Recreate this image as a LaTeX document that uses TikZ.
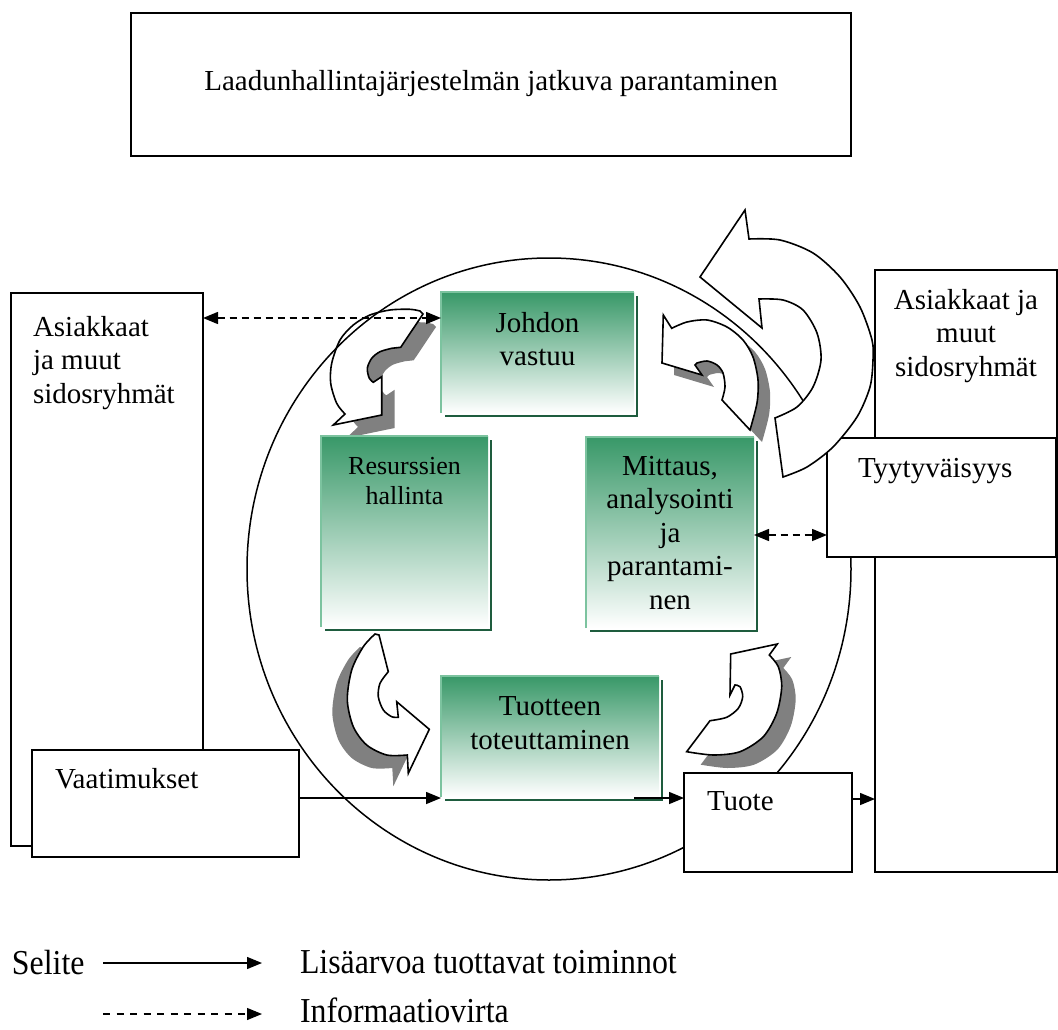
\documentclass[tikz,border=0pt]{standalone}
\usepackage{fontspec}
\setmainfont{Liberation Serif}
\newfontfamily\legendfam[FakeStretch=0.91]{Liberation Serif}
\usetikzlibrary{arrows.meta,calc}

\definecolor{gtop}{RGB}{56,152,104}
\definecolor{gedgelight}{RGB}{124,195,159}
\definecolor{gedgedark}{RGB}{30,92,62}
\definecolor{shadowgrey}{RGB}{128,128,128}

\newcommand\bodyfont{\fontsize{29}{33.5}\selectfont}
\newcommand\smallbodyfont{\fontsize{26}{30.5}\selectfont}
\newcommand\legendfont{\legendfam\fontsize{35}{40}\selectfont}

% outlines of the curved process arrows
\newcommand\pathTurnA{(423,314) -- (400.7,347.3) -- (391.7,348.3) -- plot[smooth] coordinates {(391.7,348.3) (380,351.7) (371.7,358.3) (367.3,368.3) (369.3,378.3) (373.3,382.3)} -- (381.7,376.7) -- (381.7,415) -- (333.3,425) -- (345,414) -- plot[smooth] coordinates {(345,414) (336.7,403.3) (330.7,383.3) (331.7,363.3) (340,340) (353.3,325) (370,315) (390,310) (410,309.3) (420,311)} -- cycle}
\newcommand\pathTurnB{(663.3,315) -- (671.7,328.3) -- plot[smooth] coordinates {(671.7,328.3) (687,322) (707,320) (727,327) (743,340) (753,357) (758,380) (757,403) (750,430)} -- (722,400) -- plot[smooth] coordinates {(722,400) (725,387) (723,373) (717,365) (707,361) (697,363)} -- (695,365) -- (702,375) -- (662,363) -- cycle}
\newcommand\pathTurnC{(375,634) -- (379,635) -- (388.3,671.7) -- plot[smooth] coordinates {(388.3,671.7) (380,683.3) (378.3,696.7) (383.3,710) (391.7,716.7) (398.3,717.3)} -- (396.7,701.7) -- (429.3,729.3) -- (408.3,773.3) -- (407.3,755) -- plot[smooth] coordinates {(407.3,755) (386.7,755) (366.7,745) (353.3,726.7) (347.3,700) (351.7,670) (363.3,646.7) (375,634)} -- cycle}
\newcommand\pathTurnD{(777.3,644) -- (769.3,655) -- plot[smooth] coordinates {(769.3,655) (778.3,666.7) (781.7,686.7) (776.7,713.3) (763.3,736.7) (740,751.7) (713.3,755) (686.7,751.7)} -- (710,720.7) -- plot[smooth] coordinates {(710,720.7) (726.7,717.3) (738.3,708.3) (742.7,696.7) (740,686.7) (735,685)} -- (730,695) -- (730.7,654) -- cycle}
\newcommand\pathTurnBig{(745,210) -- (749,239) -- plot[smooth] coordinates {(749,239) (780,240) (813,253) (840,277) (860,307) (872,340) (873,360) (870,387) (857,417) (833,447) (807,467) (783,477)} -- (775,418) -- plot[smooth] coordinates {(775,418) (797,407) (813,387) (821,360) (817,333) (803,310) (783,300) (759,299)} -- (762,328) -- (700,277) -- cycle}

% bevelled rims of a green process box
\newcommand\greenrims[1]{%
  \draw[darkrim] ($(#1.south west)+(4,3)$) -- ($(#1.south east)+(3,3)$) -- ($(#1.north east)+(3,4)$);
  \draw[lightrim] (#1.south west) -- (#1.north west) -- (#1.north east);}

\begin{document}
\begin{tikzpicture}[x=1pt,y=-1pt,
  every node/.style={inner sep=0pt, outer sep=0pt, font=\bodyfont},
  frame/.style={draw, line width=1.8pt, fill=white},
  greenbox/.style={top color=gtop, bottom color=white, draw=none},
  lightrim/.style={draw=gedgelight, line width=2.6pt},
  darkrim/.style={draw=gedgedark, line width=2.2pt},
  flow/.style={line width=1.5pt, -{Triangle[length=15pt,width=12pt]}},
  info/.style={line width=1.5pt, dash pattern=on 7pt off 5pt, {Triangle[length=15pt,width=12pt]}-{Triangle[length=15pt,width=12pt]}},
  legendinfo/.style={line width=1.2pt, dash pattern=on 7pt off 6.5pt, -{Triangle[length=15pt,width=12pt]}},
  legendflow/.style={line width=1.3pt, -{Triangle[length=15pt,width=12pt]}},
  curved/.style={fill=white, draw=black, line width=1.6pt, line join=miter},
  curvedshadow/.style={fill=shadowgrey, draw=none},
]
\useasboundingbox (0,0) rectangle (1058,1030);

% title box
\node[frame, minimum width=720pt, minimum height=143pt] (title) at (491,84.5) {};
\node[anchor=north] (titletext) at (491,70) {Laadunhallintajärjestelmän jatkuva parantaminen};

% stakeholder columns
\node[frame, minimum width=192pt, minimum height=553pt] (leftbox) at (107,569.5) {};
\node[anchor=north west, align=left] (lefttext) at (33,316) {Asiakkaat\\ja muut\\sidosryhmät};
\node[frame, minimum width=182pt, minimum height=602pt] (rightbox) at (966,571) {};
\node[anchor=north, align=center] (righttext) at (966,289) {Asiakkaat ja\\muut\\sidosryhmät};

% small curved arrows with their shadows
\fill[curvedshadow, shift={(13,13)}] \pathTurnA;
\draw[curved] \pathTurnA;
\fill[curvedshadow, shift={(12,12)}] \pathTurnB;
\draw[curved] \pathTurnB;
\fill[curvedshadow, shift={(-15,13)}] \pathTurnC;
\draw[curved] \pathTurnC;
\fill[curvedshadow, shift={(14,13)}] \pathTurnD;
\draw[curved] \pathTurnD;

% process cycle
\draw[line width=1.5pt] (549,569) ellipse [x radius=302, y radius=311];

% process boxes
\node[greenbox, minimum width=193pt, minimum height=121pt] (johdon) at (537.5,352.5) {};
\greenrims{johdon}
\node[anchor=north, align=center] (johdontext) at (537.5,312) {Johdon\\vastuu};

\node[greenbox, minimum width=167pt, minimum height=191pt] (resurs) at (404.5,531.5) {};
\greenrims{resurs}
\node[anchor=north, align=center, font=\smallbodyfont] (resurstext) at (404.5,457) {Resurssien\\hallinta};

\node[greenbox, minimum width=168pt, minimum height=191pt] (mittaus) at (670,532.5) {};
\greenrims{mittaus}
\node[anchor=north, align=center] (mittaustext) at (670,456) {Mittaus,\\analysointi\\ja\\parantami-\\nen};

\node[greenbox, minimum width=218pt, minimum height=121pt] (tuotteen) at (550,736.5) {};
\greenrims{tuotteen}
\node[anchor=north, align=center] (tuotteentext) at (550,697) {Tuotteen\\toteuttaminen};

% input, output and satisfaction boxes
\node[frame, minimum width=267pt, minimum height=107pt] (vaat) at (165.5,803.5) {};
\node[anchor=north west] (vaattext) at (55,768) {Vaatimukset};
\node[frame, minimum width=168pt, minimum height=99pt] (tuote) at (768,822.5) {};
\node[anchor=north west] (tuotetext) at (707,792) {Tuote};
\node[frame, minimum width=229pt, minimum height=119pt] (tyyty) at (941.5,497.5) {};
\node[anchor=north west] (tyytytext) at (858,458) {Tyytyväisyys};

% continual improvement arrow
\draw[curved] \pathTurnBig;

% flows
\draw[info] (leftbox.east |- 0,318) -- (johdon.west |- 0,318);
\draw[info] (mittaus.east |- 0,535) -- (tyyty.west |- 0,535);
\draw[flow] (vaat.east |- 0,798) -- (tuotteen.west |- 0,798);
\draw[flow] ($(tuotteen.south east)+(-25,1)$) -- (tuote.west |- 0,798);
\draw[flow] (tuote.east |- 0,799) -- (rightbox.west |- 0,799);

% legend
\node[anchor=north west, font=\legendfont] (selite) at (12,950) {Selite};
\coordinate (keyflowA) at (103,963);
\coordinate (keyflowB) at (262,963);
\draw[legendflow] (keyflowA) -- (keyflowB);
\node[anchor=north west, font=\legendfont] (keyflowtext) at (300,950) {Lisäarvoa tuottavat toiminnot};
\coordinate (keyinfoA) at (103,1014);
\coordinate (keyinfoB) at (262,1014);
\draw[legendinfo] (keyinfoA) -- (keyinfoB);
\node[anchor=north west, font=\legendfont] (keyinfotext) at (300,998) {Informaatiovirta};
\end{tikzpicture}
\end{document}
